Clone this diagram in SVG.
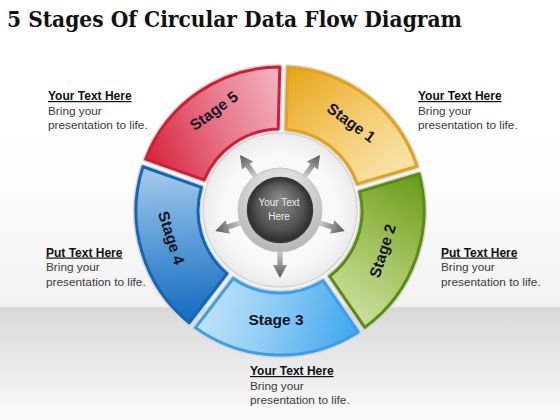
<svg xmlns="http://www.w3.org/2000/svg" width="560" height="420" viewBox="0 0 560 420">
<defs>
<style>
.title{font-family:"DejaVu Serif","Liberation Serif",serif;font-weight:bold;font-size:23px;fill:#111}
.stg{font-family:"Liberation Sans",Arial,sans-serif;font-weight:bold;font-size:15.5px;fill:#141428;text-anchor:middle}
.hd{font-family:"Liberation Sans",Arial,sans-serif;font-weight:bold;font-size:12px;fill:#111;text-decoration:underline}
.bd{font-family:"Liberation Sans",Arial,sans-serif;font-size:11.8px;fill:#3a3a3a}
.hub{font-family:"Liberation Sans",Arial,sans-serif;font-size:10px;fill:#ececec;text-anchor:middle}
.halo{fill:none;stroke:#d6d6d6;stroke-width:6;stroke-linejoin:round}
.seg{stroke-width:3;stroke-linejoin:round}
</style>
<linearGradient id="bgTop" x1="0" y1="0" x2="0" y2="1">
<stop offset="0" stop-color="#ffffff"/><stop offset="0.6" stop-color="#fdfdfd"/><stop offset="1" stop-color="#f1f1f1"/>
</linearGradient>
<linearGradient id="bgBot" x1="0" y1="0" x2="0" y2="1">
<stop offset="0" stop-color="#d8d8d8"/><stop offset="1" stop-color="#fbfbfb"/>
</linearGradient>
<linearGradient id="g1" x1="0" y1="0" x2="1" y2="1">
<stop offset="0" stop-color="#e8a516"/><stop offset="0.5" stop-color="#f4cd72"/><stop offset="1" stop-color="#fbe9bb"/>
</linearGradient>
<linearGradient id="g2" x1="0" y1="0" x2="1" y2="1">
<stop offset="0" stop-color="#679a16"/><stop offset="0.5" stop-color="#a3c45e"/><stop offset="1" stop-color="#d3e4ae"/>
</linearGradient>
<linearGradient id="g3" x1="0" y1="0" x2="1" y2="1">
<stop offset="0" stop-color="#3ea6ee"/><stop offset="0.5" stop-color="#8ccbf5"/><stop offset="1" stop-color="#cde8fb"/>
</linearGradient>
<linearGradient id="g4" x1="0" y1="0" x2="1" y2="1">
<stop offset="0" stop-color="#136abd"/><stop offset="0.5" stop-color="#5d9fd9"/><stop offset="1" stop-color="#b7d5f0"/>
</linearGradient>
<linearGradient id="g5" x1="0" y1="0" x2="1" y2="1">
<stop offset="0" stop-color="#d6233c"/><stop offset="0.5" stop-color="#e9798c"/><stop offset="1" stop-color="#f6c2cf"/>
</linearGradient>
<radialGradient id="disk" cx="0.5" cy="0.5" r="0.5">
<stop offset="0" stop-color="#ffffff"/><stop offset="0.75" stop-color="#f8f8f8"/><stop offset="1" stop-color="#ebebeb"/>
</radialGradient>
<radialGradient id="ringG" cx="0.5" cy="0.3" r="0.7">
<stop offset="0" stop-color="#f2f2f2"/><stop offset="1" stop-color="#b5b5b5"/>
</radialGradient>
<radialGradient id="ball" cx="0.5" cy="0.5" r="0.5" fx="0.5" fy="0.3">
<stop offset="0" stop-color="#8c8c8c"/><stop offset="0.7" stop-color="#555555"/><stop offset="1" stop-color="#2c2c2c"/>
</radialGradient>
<linearGradient id="arrG" x1="0" y1="0" x2="1" y2="0">
<stop offset="0" stop-color="#dcdcdc"/><stop offset="0.5" stop-color="#9a9a9a"/><stop offset="1" stop-color="#555555"/>
</linearGradient>
<path id="segP" d="M 284.00 67.06 A 144 144 0 0 1 415.67 162.72 L 356.66 181.88 A 82 82 0 0 0 284.01 129.10 Z"/>
<path id="arr" d="M 38 -2.6 L 55 -2.6 L 55 -7 L 68 0 L 55 7 L 55 2.6 L 38 2.6 Z"/>
</defs>

<rect x="0" y="0" width="560" height="307" fill="url(#bgTop)"/>
<rect x="0" y="307" width="560" height="113" fill="url(#bgBot)"/>

<text class="title" x="7" y="27" textLength="455" lengthAdjust="spacingAndGlyphs">5 Stages Of Circular Data Flow Diagram</text>

<g transform="rotate(1.5 280 211)">
<g id="stage1">
<use href="#segP" class="halo"/>
<use href="#segP" class="seg" fill="url(#g1)" stroke="#e2a21c"/>
</g>
<g id="stage2" transform="rotate(72 280 211)">
<use href="#segP" class="halo"/>
<use href="#segP" class="seg" fill="url(#g2)" stroke="#5c8c12"/>
</g>
<g id="stage3" transform="rotate(144 280 211)">
<use href="#segP" class="halo"/>
<use href="#segP" class="seg" fill="url(#g3)" stroke="#3a9fe8"/>
</g>
<g id="stage4" transform="rotate(216 280 211)">
<use href="#segP" class="halo"/>
<use href="#segP" class="seg" fill="url(#g4)" stroke="#1466b6"/>
</g>
<g id="stage5" transform="rotate(288 280 211)">
<use href="#segP" class="halo"/>
<use href="#segP" class="seg" fill="url(#g5)" stroke="#cf1f36"/>
</g>
</g>

<g id="stage-labels">
<text class="stg" transform="translate(351,123) rotate(36)" dy="5">Stage 1</text>
<text class="stg" transform="translate(383,251) rotate(-72)" dy="5">Stage 2</text>
<text class="stg" transform="translate(276,320)" dy="5">Stage 3</text>
<text class="stg" transform="translate(171,238) rotate(72)" dy="5">Stage 4</text>
<text class="stg" transform="translate(214,111) rotate(-36)" dy="5">Stage 5</text>
</g>

<g id="hub-disk">
<circle cx="280" cy="210" r="77" fill="url(#disk)" stroke="#d2d2d2" stroke-width="1.5"/>
</g>

<g id="connectors">
<use href="#arr" fill="url(#arrG)" transform="translate(280 210) rotate(-126)"/>
<use href="#arr" fill="url(#arrG)" transform="translate(280 210) rotate(-54)"/>
<use href="#arr" fill="url(#arrG)" transform="translate(280 210) rotate(18)"/>
<use href="#arr" fill="url(#arrG)" transform="translate(280 210) rotate(90)"/>
<use href="#arr" fill="url(#arrG)" transform="translate(280 210) rotate(162)"/>
</g>

<g id="hub">
<circle cx="280" cy="210" r="42" fill="url(#ringG)" stroke="#c4c4c4" stroke-width="1"/>
<circle cx="280" cy="210" r="32.5" fill="url(#ball)" stroke="#3a3a3a" stroke-width="1.5"/>
<text class="hub" x="279" y="206">Your Text</text>
<text class="hub" x="279" y="220">Here</text>
</g>

<g id="note-top-left">
<text class="hd" x="48" y="100">Your Text Here</text>
<text class="bd" x="48" y="114.5">Bring your</text>
<text class="bd" x="48" y="129">presentation to life.</text>
</g>
<g id="note-top-right">
<text class="hd" x="418" y="100">Your Text Here</text>
<text class="bd" x="418" y="114.5">Bring your</text>
<text class="bd" x="418" y="129">presentation to life.</text>
</g>
<g id="note-mid-left">
<text class="hd" x="46" y="256.5">Put Text Here</text>
<text class="bd" x="46" y="271">Bring your</text>
<text class="bd" x="46" y="285.5">presentation to life.</text>
</g>
<g id="note-mid-right">
<text class="hd" x="441" y="256.5">Put Text Here</text>
<text class="bd" x="441" y="271">Bring your</text>
<text class="bd" x="441" y="285.5">presentation to life.</text>
</g>
<g id="note-bottom">
<text class="hd" x="250" y="375">Your Text Here</text>
<text class="bd" x="250" y="389.5">Bring your</text>
<text class="bd" x="250" y="404">presentation to life.</text>
</g>
</svg>
